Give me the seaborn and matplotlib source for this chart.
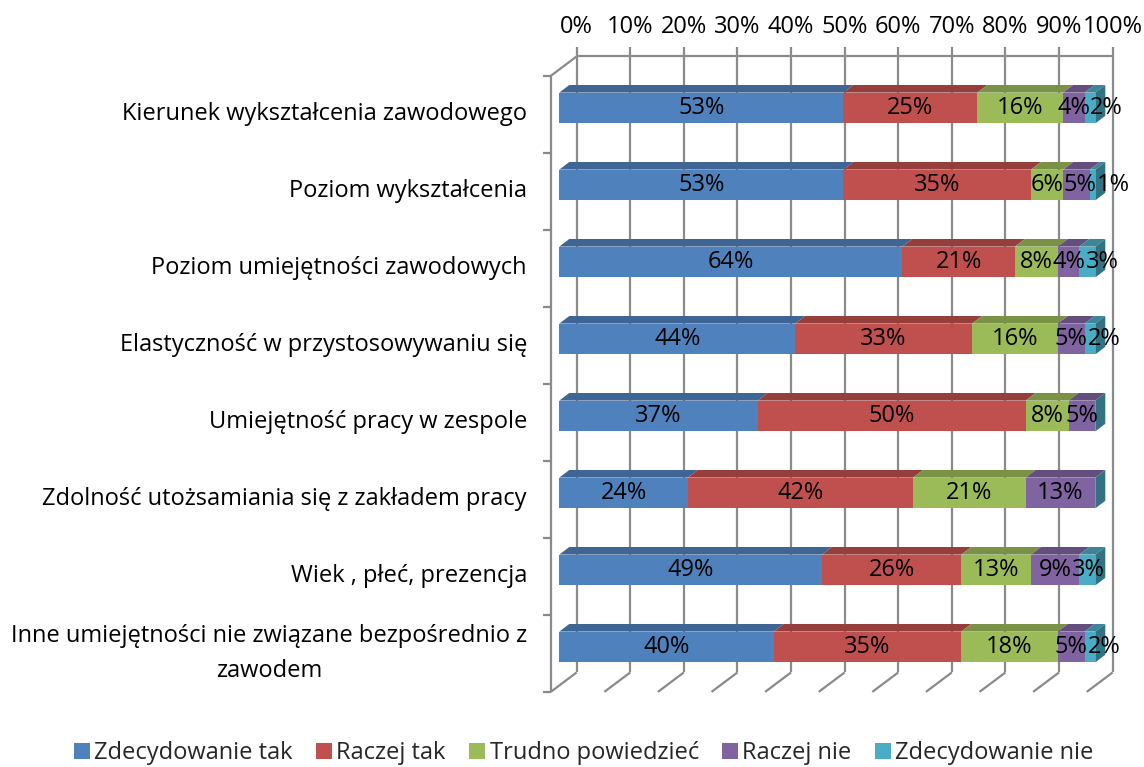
import numpy as np
import matplotlib
matplotlib.use("Agg")
import matplotlib.pyplot as plt
from matplotlib.patches import Polygon, Patch
from matplotlib.lines import Line2D
from matplotlib.transforms import IdentityTransform
from matplotlib.colors import to_rgb
import seaborn as sns

# ---- data -------------------------------------------------------------
categories = [
    "Kierunek wykształcenia zawodowego",
    "Poziom wykształcenia",
    "Poziom umiejętności zawodowych",
    "Elastyczność w przystosowywaniu się",
    "Umiejętność pracy w zespole",
    "Zdolność utożsamiania się z zakładem pracy",
    "Wiek , płeć, prezencja",
    "Inne umiejętności nie związane bezpośrednio z\nzawodem",
]
series_names = ["Zdecydowanie tak", "Raczej tak", "Trudno powiedzieć",
                "Raczej nie", "Zdecydowanie nie"]
zdecydowanie_tak = [53, 53, 64, 44, 37, 24, 49, 40]
raczej_tak = [25, 35, 21, 33, 50, 42, 26, 35]
trudno_powiedziec = [16, 6, 8, 16, 8, 21, 13, 18]
raczej_nie = [4, 5, 4, 5, 5, 13, 9, 5]
zdecydowanie_nie = [2, 1, 3, 2, 0, 0, 3, 2]
x_ticks = [0, 10, 20, 30, 40, 50, 60, 70, 80, 90, 100]
colors = ["#4F81BD", "#C0504D", "#9BBB59", "#8064A2", "#4BACC6"]

values = np.array([zdecydowanie_tak, raczej_tak, trudno_powiedziec,
                   raczej_nie, zdecydowanie_nie], dtype=float)
cum = values.cumsum(axis=0)
starts = cum - values

# ---- style ------------------------------------------------------------
sns.set_theme(style="white")
plt.rcParams["font.family"] = ["Open Sans", "DejaVu Sans"]
FS = 17
GRID = "#8a8a8a"
LW = 1.6

W, H = 1144, 767
fig = plt.figure(figsize=(W / 100, H / 100), dpi=100)
ax = fig.add_axes([559.3 / W, 1 - 685.5 / H, 536 / W, 616 / H])

# front faces of the stacked bars (drawn longest first so they overlap)
for k in reversed(range(len(series_names))):
    sns.barplot(x=cum[k], y=categories, orient="h", color=colors[k],
                saturation=1, width=0.4, errorbar=None, ax=ax,
                edgecolor="none", linewidth=0, zorder=2)

ax.set_xlim(0, 100)
ax.set_ylim(len(categories) - 0.5, -0.5)
ax.set_autoscale_on(False)
ax.set_axis_off()

IDT = IdentityTransform()
FRONT = np.array([-8.6, -6.4])     # front plane relative to bar faces
BACK = np.array([17.4, 13.1])      # back wall relative to bar faces
DEPTH = np.array([10.0, 7.6])      # thickness of each bar


def px(x, y):
    return ax.transData.transform((x, y))


def seg(p, q, **kw):
    ax.add_line(Line2D([p[0], q[0]], [p[1], q[1]], transform=IDT,
                       clip_on=False, color=GRID, lw=LW, zorder=0.5,
                       solid_capstyle="butt", **kw))


n = len(categories)
top_y, bot_y = -0.5, n - 0.5

# back wall gridlines, top edge and tick marks above
for v in x_ticks:
    seg(px(v, top_y) + BACK + [0, 9], px(v, bot_y) + BACK)
seg(px(0, top_y) + BACK, px(100, top_y) + BACK)

# left wall: front edge, ticks and diagonal at top
seg(px(0, top_y) + FRONT, px(0, bot_y) + FRONT)
for i in range(n + 1):
    p = px(0, top_y + i) + FRONT
    seg(p - [8, 0], p)
seg(px(0, top_y) + FRONT, px(0, top_y) + BACK)

# floor lines
for v in x_ticks:
    seg(px(v, bot_y) + FRONT, px(v, bot_y) + BACK)

# top and side faces of the bars
half = 0.2
for i in range(n):
    for k in range(len(series_names)):
        a, b = starts[k, i], cum[k, i]
        if b - a <= 0:
            continue
        dark = tuple(np.array(to_rgb(colors[k])) * 0.78)
        p0, p1 = px(a, i - half), px(b, i - half)
        ax.add_patch(Polygon([p0, p1, p1 + DEPTH, p0 + DEPTH], closed=True,
                             transform=IDT, clip_on=False, facecolor=dark,
                             edgecolor="none", zorder=2.2))
    side = tuple(np.array(to_rgb(colors[-1])) * 0.66)
    end = cum[-1, i]
    q0, q1 = px(end, i - half), px(end, i + half)
    ax.add_patch(Polygon([q0, q1, q1 + DEPTH, q0 + DEPTH], closed=True,
                         transform=IDT, clip_on=False, facecolor=side,
                         edgecolor="none", zorder=2.3))

# category labels on the left
for i, lab in enumerate(categories):
    p = px(0, i) + FRONT
    ax.text(p[0] - 23.7, p[1], lab, transform=IDT, ha="right", va="center",
            multialignment="center", fontsize=FS, linespacing=1.6,
            color="black", clip_on=False)

# percentage axis labels along the top
for v in x_ticks:
    p = px(v, top_y) + BACK
    ax.text(p[0], H - 27, f"{v}%", transform=IDT, ha="center", va="center",
            fontsize=FS, color="black", clip_on=False)

# value labels, nudged right when they would collide
renderer = fig.canvas.get_renderer()
for i in range(n):
    prev_right = None
    for k in range(len(series_names)):
        val = values[k, i]
        if val <= 0:
            continue
        p = px((starts[k, i] + cum[k, i]) / 2, i)
        t = ax.text(p[0], p[1], f"{val:.0f}%", transform=IDT, ha="center",
                    va="center", fontsize=FS, color="black", zorder=4,
                    clip_on=False)
        bb = t.get_window_extent(renderer)
        if prev_right is not None and bb.x0 < prev_right:
            shift = prev_right - bb.x0
            t.set_position((p[0] + shift, p[1]))
            prev_right = bb.x1 + shift
        else:
            prev_right = bb.x1

handles = [Patch(facecolor=c, edgecolor="none", label=s)
           for c, s in zip(colors, series_names)]
fig.legend(handles=handles, loc="center", bbox_to_anchor=(584 / W, 1 - 753 / H),
           ncol=5, frameon=False, fontsize=FS, handlelength=0.65,
           handleheight=0.65, handletextpad=0.2, columnspacing=1.0,
           borderaxespad=0, borderpad=0)

fig.savefig("out.png", dpi=100, facecolor="white")
